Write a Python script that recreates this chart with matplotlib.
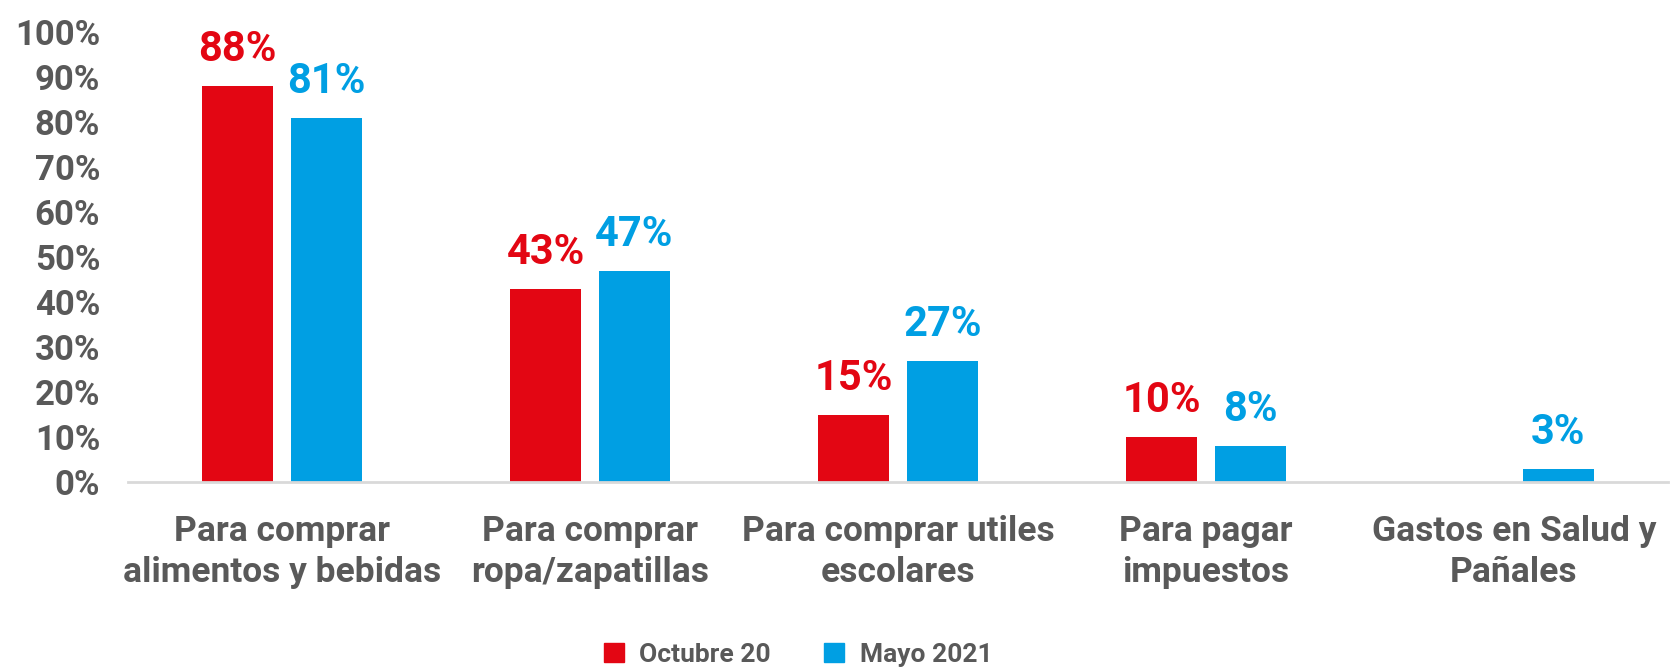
import matplotlib
matplotlib.use("Agg")
import matplotlib.pyplot as plt
from matplotlib.patches import Patch
import numpy as np

categorias = ["Para comprar\nalimentos y bebidas", "Para comprar\nropa/zapatillas",
              "Para comprar utiles\nescolares", "Para pagar\nimpuestos",
              "Gastos en Salud y\nPañales"]
octubre = [88, 43, 15, 10, None]
mayo = [81, 47, 27, 8, 3]
series = ["Octubre 20", "Mayo 2021"]
yticks = list(range(0, 101, 10))

ROJO = "#E30613"
AZUL = "#009FE3"
GRIS = "#595959"

fig = plt.figure(figsize=(16.73, 6.71), dpi=100)
ax = fig.add_axes([128 / 1673, (671 - 482) / 671, 1540 / 1673, 450 / 671])

x = np.arange(len(categorias))
w = 0.23
off = 0.144

# barras + etiquetas de valor
for i, v in enumerate(octubre):
    if v is None:
        continue
    ax.bar(x[i] - off, v, w, color=ROJO)
    ax.text(x[i] - off, v + 3.5, f"{v}%", ha="center", va="bottom", color=ROJO,
            fontsize=30, fontweight="bold", family="Roboto")
for i, v in enumerate(mayo):
    ax.bar(x[i] + off, v, w, color=AZUL)
    ax.text(x[i] + off, v + 3.5, f"{v}%", ha="center", va="bottom", color=AZUL,
            fontsize=30, fontweight="bold", family="Roboto")

ax.set_xlim(-0.5, len(categorias) - 0.5)
ax.set_ylim(0, 100)
ax.set_yticks(yticks)
ax.set_yticklabels([f"{t}%" for t in yticks], fontsize=25, fontweight="bold",
                   color=GRIS, family="Roboto")
ax.set_xticks(x)
ax.set_xticklabels(categorias, fontsize=25.5, fontweight="bold", color=GRIS,
                   family="Roboto", linespacing=1.3)
ax.tick_params(axis="y", length=0, pad=20)
ax.tick_params(axis="x", length=0, pad=24)

for s in ["top", "right", "left"]:
    ax.spines[s].set_visible(False)
ax.spines["bottom"].set_color("#D9D9D9")
ax.spines["bottom"].set_linewidth(2)

handles = [Patch(color=ROJO), Patch(color=AZUL)]
fig.legend(handles, series, loc="center", bbox_to_anchor=(798 / 1673, 1 - 655 / 671),
           ncol=2, frameon=False, handlelength=0.75, handleheight=0.75,
           handletextpad=0.6, columnspacing=2.0,
           prop={"family": "Roboto", "weight": "bold", "size": 19})
for t in fig.legends[0].get_texts():
    t.set_color(GRIS)

fig.savefig("out.png", dpi=100, facecolor="white")
